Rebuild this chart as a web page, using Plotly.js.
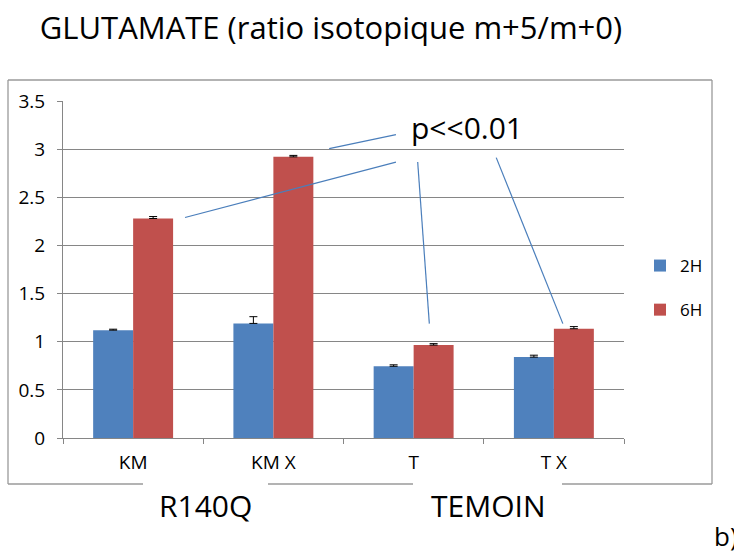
<!DOCTYPE html>
<html>
<head>
<meta charset="utf-8">
<script src="https://cdn.plot.ly/plotly-3.0.1.min.js"></script>
<style>
  html, body { margin: 0; padding: 0; background: #fff; }
  #chart { width: 734px; height: 551px; }
</style>
</head>
<body>
<div id="chart"></div>
<script>
// Glutamate isotopic ratio m+5/m+0, after 2 h and 6 h
const categories = ['KM', 'KM X', 'T', 'T X'];
const series2H = [1.12, 1.19, 0.745, 0.84];
const err2H = [0.01, 0.07, 0.015, 0.02];
const series6H = [2.28, 2.92, 0.965, 1.135];
const err6H = [0.02, 0.015, 0.015, 0.022];
const seriesNames = ['2H', '6H'];
const groupLabels = ['R140Q', 'TEMOIN'];
const pLabel = 'p<<0.01';

const FONT = 'Open Sans, sans-serif';
const GRID = '#868686';
const FRAME = '#9a9a9a';
const BLUE = '#4f81bd';
const RED = '#c0504d';
const LINK = '#4a7ebb';

const W = 734, H = 551;
const M = { l: 63, r: 110, t: 101, b: 113 };
const PW = W - M.l - M.r, PH = H - M.t - M.b;
// page pixel -> paper fraction (for the decorations around the plot area)
const px = x => (x - M.l) / PW;
const py = y => (H - M.b - y) / PH;

function barTrace(name, values, errs, color, group) {
  return {
    type: 'bar',
    name: name,
    x: categories,
    y: values,
    legendgroup: group,
    marker: { color: color, line: { width: 0 } },
    error_y: {
      type: 'data', symmetric: false,
      array: errs, arrayminus: errs.map(() => 0),
      color: '#000', thickness: 1, width: 4
    },
    hoverinfo: 'skip'
  };
}

const data = [
  barTrace(seriesNames[0], series2H, err2H, BLUE, 'a'),
  barTrace(seriesNames[1], series6H, err6H, RED, 'b')
];

// Significance links, in category / value coordinates
const links = [
  [0.37, 2.29, 1.874, 2.866],
  [1.398, 3.005, 1.874, 3.151],
  [2.029, 2.866, 2.112, 1.188],
  [2.589, 2.912, 3.064, 1.188]
];

const shapes = links.map(([x0, y0, x1, y1]) => ({
  type: 'line', xref: 'x', yref: 'y', x0, y0, x1, y1,
  line: { color: LINK, width: 1.2 }, layer: 'above'
}));

// Outer chart frame, with gaps left for the group labels
const frameSegs = [
  [8, 80, 712, 80],
  [8, 80, 8, 484],
  [712, 80, 712, 484],
  [8, 484, 143, 484],
  [268, 484, 413, 484],
  [562, 484, 712, 484]
];
frameSegs.forEach(([x0, y0, x1, y1]) => shapes.push({
  type: 'line', xref: 'paper', yref: 'paper',
  x0: px(x0), y0: py(y0), x1: px(x1), y1: py(y1),
  line: { color: FRAME, width: 1.3 }
}));

const annotations = [
  { text: pLabel, xref: 'x', yref: 'y', x: 2.38, y: 3.22, showarrow: false,
    xanchor: 'center', yanchor: 'middle',
    font: { family: FONT, size: 30, color: '#000' } },
  { text: groupLabels[0], xref: 'paper', yref: 'paper', x: px(205), y: py(505),
    xanchor: 'center', yanchor: 'middle',
    showarrow: false, font: { family: FONT, size: 30, color: '#000' } },
  { text: groupLabels[1], xref: 'paper', yref: 'paper', x: px(488), y: py(505),
    xanchor: 'center', yanchor: 'middle',
    showarrow: false, font: { family: FONT, size: 30, color: '#000' } },
  { text: 'b)', xref: 'paper', yref: 'paper', x: px(712), y: py(536),
    xanchor: 'left', yanchor: 'middle',
    showarrow: false, font: { family: FONT, size: 26, color: '#000' } }
];

const layout = {
  width: W, height: H,
  margin: M,
  paper_bgcolor: '#fff', plot_bgcolor: '#fff',
  font: { family: FONT, color: '#000' },
  title: {
    text: 'GLUTAMATE (ratio isotopique m+5/m+0)',
    font: { family: FONT, size: 31, color: '#000' },
    x: 331 / W, xanchor: 'center', y: 1 - 28 / H, yanchor: 'middle'
  },
  barmode: 'group',
  bargap: 0.43,
  bargroupgap: 0,
  showlegend: true,
  legend: {
    x: px(640), xanchor: 'left', y: py(248), yanchor: 'top',
    font: { family: FONT, size: 17, color: '#000' },
    traceorder: 'grouped', tracegroupgap: 19,
    bgcolor: 'rgba(0,0,0,0)'
  },
  xaxis: {
    type: 'category',
    showline: true, linecolor: GRID, linewidth: 1,
    ticks: 'outside', tickson: 'boundaries', ticklen: 5, tickcolor: GRID,
    showgrid: false, zeroline: false,
    tickfont: { family: FONT, size: 19, color: '#000' },
    ticklabelstandoff: 7,
    fixedrange: true
  },
  yaxis: {
    range: [0, 3.5], dtick: 0.5, tick0: 0,
    showline: true, linecolor: GRID, linewidth: 1,
    ticks: 'outside', ticklen: 5, tickcolor: GRID,
    showgrid: true, gridcolor: GRID, gridwidth: 1,
    zeroline: false,
    tickfont: { family: FONT, size: 19, color: '#000' },
    ticklabelstandoff: 8,
    fixedrange: true
  },
  shapes: shapes,
  annotations: annotations
};

Plotly.newPlot('chart', data, layout, { staticPlot: true, displayModeBar: false });
</script>
</body>
</html>
